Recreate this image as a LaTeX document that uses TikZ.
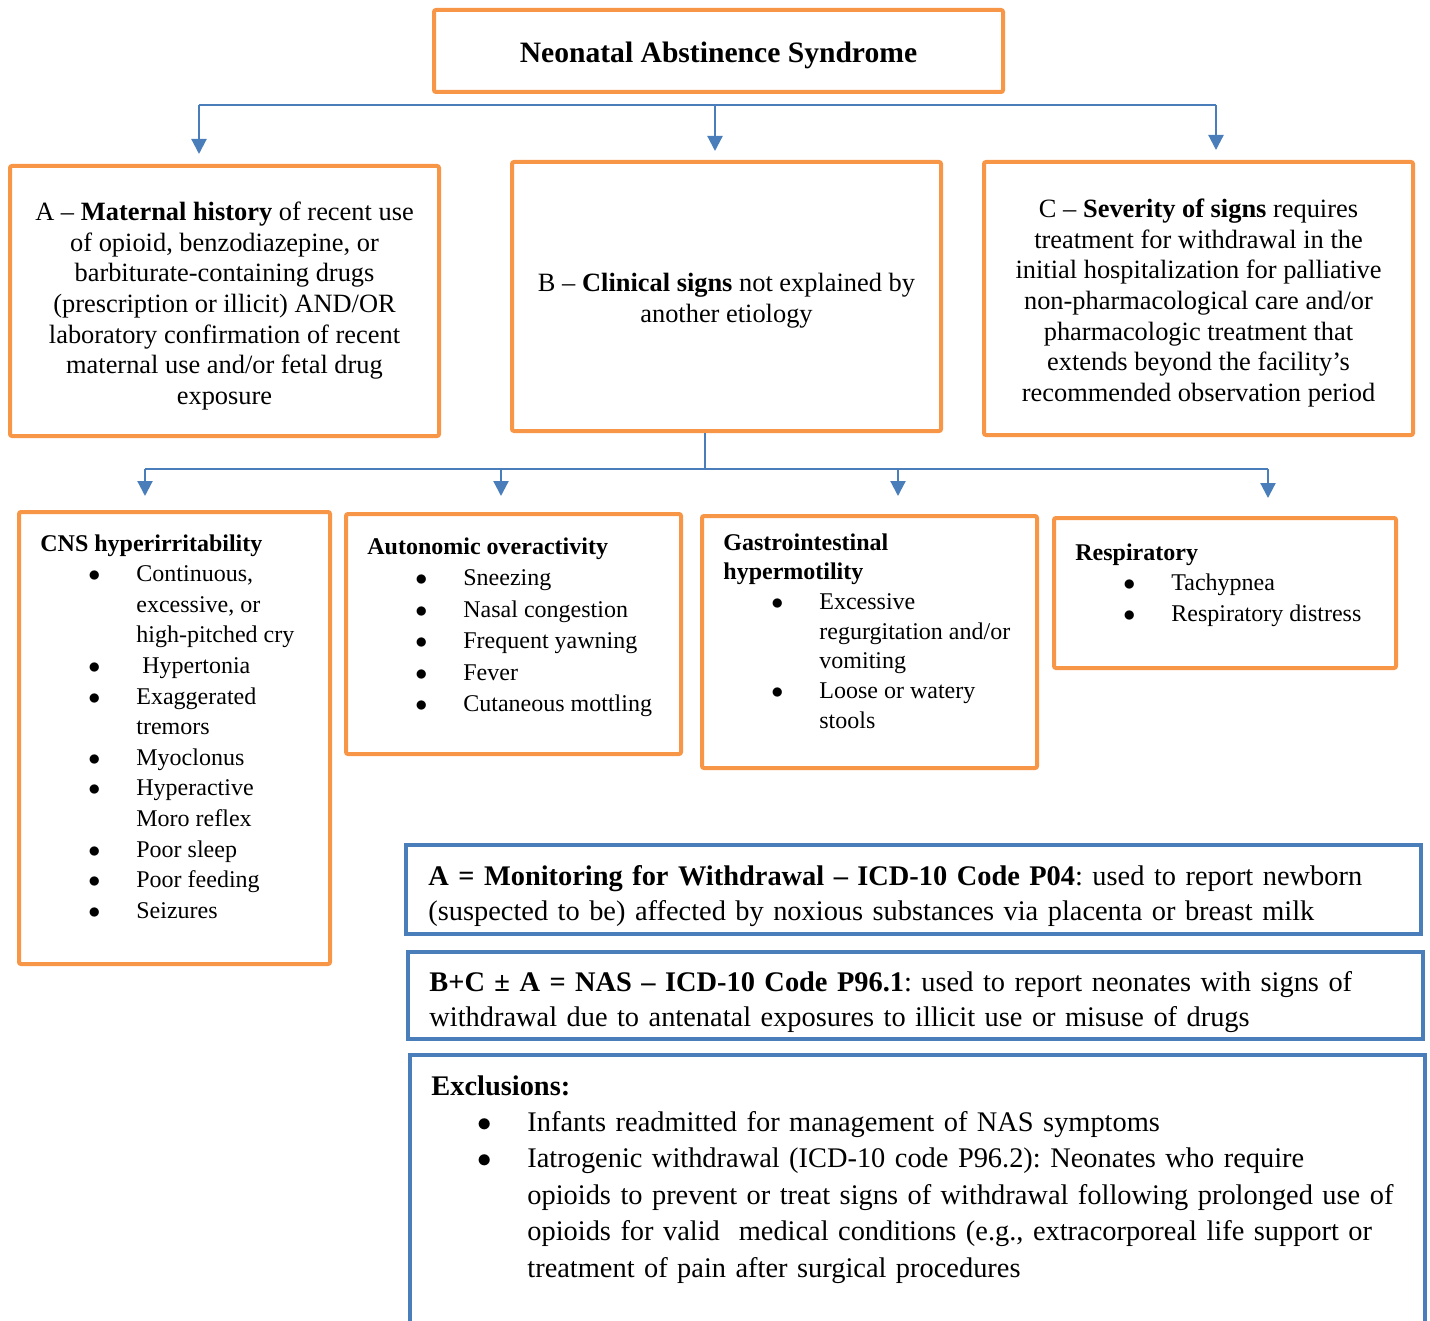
\documentclass[tikz,border=0pt]{standalone}
\usepackage{fontspec}
\setmainfont{Liberation Serif}
\usetikzlibrary{positioning,arrows.meta}
\definecolor{nasorange}{RGB}{247,150,70}
\definecolor{nasblue}{RGB}{74,126,187}
\setlength{\parindent}{0pt}
\frenchspacing
\newcommand{\nln}{\hfill\break}
\newcommand{\bitem}[1]{\par\hangindent=48pt\hangafter=0\noindent\llap{$\bullet$\hspace{18pt}}\ignorespaces#1\par}
\tikzset{
	obox/.style={draw=nasorange, line width=2pt, rounded corners=1pt, inner sep=0pt},
	bbox/.style={draw=nasblue, line width=2pt, inner sep=0pt},
	flow/.style={draw=nasblue, line width=1.1pt},
	drop/.style={flow, -{Triangle[width=7.5pt,length=7.5pt]}},
	toptext/.style={inner sep=0pt, align=center, font=\fontsize{13.2}{15.3}\selectfont},
	listtext/.style={anchor=north west, inner sep=0pt, align=flush left, text width=250pt},
	codetext/.style={anchor=north west, inner sep=0pt, align=left, text width=520pt}
}

\begin{document}
\begin{tikzpicture}[x=0.5pt, y=-0.5pt]
	\clip (0,0) rectangle (1430,1321);
	\useasboundingbox (0,0) rectangle (1430,1321);
	% title and the three criteria
	\node [obox, minimum width=284.5pt, minimum height=41pt] (title) at (718.5,51) {};
	\node [inner sep=0pt, font=\fontsize{14.8}{17}\selectfont\bfseries] (titletext) at (718.5,55) {Neonatal Abstinence Syndrome};
	\node [obox, minimum width=214.5pt, minimum height=135pt] (boxa) at (224.5,301) {};
	\node [obox, minimum width=214.5pt, minimum height=134.5pt] (boxb) at (726.5,296.5) {};
	\node [obox, minimum width=214.5pt, minimum height=136.5pt] (boxc) at (1198.5,298.5) {};
	\node [toptext] (boxatext) at (224.5,306) {A -- \textbf{Maternal history} of recent use\\ of opioid, benzodiazepine, or\\ barbiturate-containing drugs\\ (prescription or illicit) AND/OR\\ laboratory confirmation of recent\\ maternal use and/or fetal drug\\ exposure};
	\node [toptext] (boxbtext) at (726.5,300.5) {B -- \textbf{Clinical signs} not explained by\\ another etiology};
	\node [toptext] (boxctext) at (1198.5,303) {C -- \textbf{Severity of signs} requires\\ treatment for withdrawal in the\\ initial hospitalization for palliative\\ non-pharmacological care and/or\\ pharmacologic treatment that\\ extends beyond the facility’s\\ recommended observation period};
	% sign groups
	\node [obox, minimum width=155.5pt, minimum height=226pt] (cns) at (174.5,738) {};
	\node [obox, minimum width=167.5pt, minimum height=120pt] (auto) at (513.5,634) {};
	\node [obox, minimum width=167.5pt, minimum height=126pt] (gi) at (869.5,642) {};
	\node [obox, minimum width=171pt, minimum height=75pt] (resp) at (1225,593) {};
	\node [listtext, font=\fontsize{12}{15.3}\selectfont] (cnstext) at (40,534) {\textbf{CNS hyperirritability}
		\bitem{Continuous,\nln excessive, or\nln high-pitched cry}
		\bitem{\hspace*{3pt}Hypertonia}
		\bitem{Exaggerated\nln tremors}
		\bitem{Myoclonus}
		\bitem{Hyperactive\nln Moro reflex}
		\bitem{Poor sleep}
		\bitem{Poor feeding}
		\bitem{Seizures}};
	\node [listtext, font=\fontsize{12}{15.75}\selectfont] (autotext) at (367,537) {\textbf{Autonomic overactivity}
		\bitem{Sneezing}
		\bitem{Nasal congestion}
		\bitem{Frequent yawning}
		\bitem{Fever}
		\bitem{Cutaneous mottling}};
	\node [listtext, font=\fontsize{12}{14.85}\selectfont] (gitext) at (723,533) {\textbf{Gastrointestinal\nln hypermotility}
		\bitem{Excessive\nln regurgitation and/or\nln vomiting}
		\bitem{Loose or watery\nln stools}};
	\node [listtext, font=\fontsize{12}{15.25}\selectfont] (resptext) at (1075,543) {\textbf{Respiratory}
		\bitem{Tachypnea}
		\bitem{Respiratory distress}};
	% coding boxes
	\node [bbox, minimum width=507.5pt, minimum height=44.5pt] (codea) at (913.5,889.5) {};
	\node [bbox, minimum width=507.5pt, minimum height=43.5pt] (codeb) at (915.5,995.5) {};
	\node [bbox, minimum width=507.5pt, minimum height=172.5pt] (excl) at (917.5,1227.5) {};
	\node [codetext, font=\fontsize{14.2}{17.5}\selectfont] (codeatext) at (428,865) {\textbf{A = Monitoring for Withdrawal -- ICD-10 Code P04}: used to report newborn\nln (suspected to be) affected by noxious substances via placenta or breast milk};
	\node [codetext, font=\fontsize{14.2}{17.5}\selectfont] (codebtext) at (429,971) {\textbf{B+C ± A = NAS -- ICD-10 Code P96.1}: used to report neonates with signs of\nln withdrawal due to antenatal exposures to illicit use or misuse of drugs};
	\node [codetext, font=\fontsize{14.2}{18.2}\selectfont] (excltext) at (431,1075) {\textbf{Exclusions:}
		\bitem{Infants readmitted for management of NAS symptoms}
		\bitem{Iatrogenic withdrawal (ICD-10 code P96.2): Neonates who require\nln opioids to prevent or treat signs of withdrawal following prolonged use of\nln opioids for valid\ \ medical conditions (e.g., extracorporeal life support or\nln treatment of pain after surgical procedures}};
	% connectors
	\coordinate (busl) at (199,105);
	\coordinate (busm) at (715,105);
	\coordinate (busr) at (1216,105);
	\draw [flow] (busl) -- (busr);
	\draw [drop, shorten >=5pt] (busl) -- (busl |- boxa.north);
	\draw [drop, shorten >=4.5pt] (busm) -- (busm |- boxb.north);
	\draw [drop, shorten >=5pt] (busr) -- (busr |- boxc.north);
	\coordinate (split) at (705,469);
	\coordinate (lbusl) at (145,469);
	\coordinate (lbusa) at (501,469);
	\coordinate (lbusg) at (898,469);
	\coordinate (lbusr) at (1268,469);
	\draw [flow] (boxb.south -| split) -- (split);
	\draw [flow] (lbusl) -- (lbusr);
	\draw [drop, shorten >=7pt] (lbusl) -- (lbusl |- cns.north);
	\draw [drop, shorten >=8pt] (lbusa) -- (lbusa |- auto.north);
	\draw [drop, shorten >=9pt] (lbusg) -- (lbusg |- gi.north);
	\draw [drop, shorten >=9pt] (lbusr) -- (lbusr |- resp.north);
\end{tikzpicture}
\end{document}
